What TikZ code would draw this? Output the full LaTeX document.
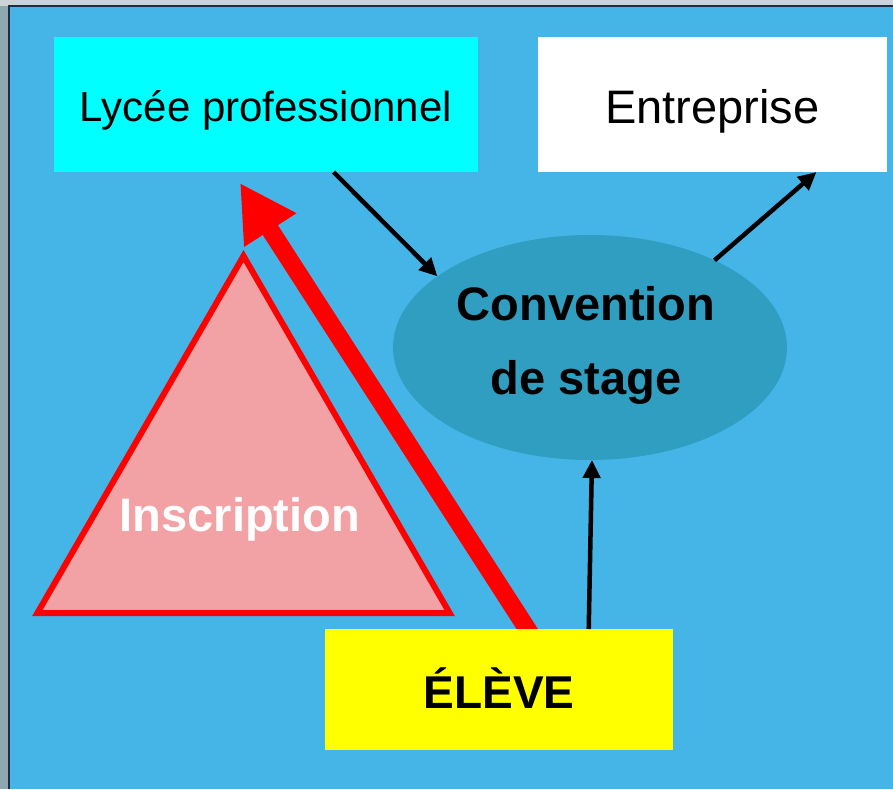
\documentclass[tikz,border=0pt]{standalone}
\usepackage{fontspec}
\setmainfont{Liberation Sans}
\usetikzlibrary{arrows.meta,shapes.geometric,calc}
\definecolor{bgblue}{HTML}{45B5E7}
\definecolor{outergray}{HTML}{8FA7B1}
\definecolor{topgray}{HTML}{CDD2D6}
\definecolor{framenavy}{HTML}{1E2C46}
\definecolor{convfill}{HTML}{2F9EC0}
\definecolor{pinkfill}{HTML}{F2A2A4}
\definecolor{lyceecyan}{HTML}{00FFFF}
\definecolor{elyellow}{HTML}{FFFF00}
\pgfdeclarelayer{bg}
\pgfsetlayers{bg,main}
\tikzset{
  plainbox/.style={rectangle, inner sep=0pt, outer sep=0pt, text=black, text depth=0pt},
  convshape/.style={ellipse, fill=convfill, minimum width=394pt, minimum height=225pt, inner sep=0pt, outer sep=0pt},
  convtext/.style={align=center, inner sep=0pt, outer sep=0pt, text=black,
    font=\fontsize{47}{74}\selectfont\bfseries},
  tribox/.style={regular polygon, regular polygon sides=3, minimum size=476pt, inner sep=0pt,
    fill=pinkfill, draw=red, line width=6pt},
  insctext/.style={inner sep=0pt, text=white, font=\fontsize{47}{56}\selectfont\bfseries},
  blackarrow/.style={draw=black, line width=4.5pt, -{Triangle[length=18pt,width=17pt]}},
  redarrow/.style={draw=red, line width=18pt, -{Triangle[length=56pt,width=58pt]}}
}
\begin{document}
\begin{tikzpicture}[x=1pt,y=-1pt]
\useasboundingbox (0,0) rectangle (893,789);
\begin{pgfonlayer}{bg}
  \fill[outergray] (0,0) rectangle (893,789);
  \fill[topgray] (0,0) rectangle (893,6);
  \fill[bgblue] (9,6) rectangle (893,789);
  \draw[framenavy, line width=2pt] (9,789) -- (9,6) -- (893,6);
\end{pgfonlayer}

\node[plainbox, fill=lyceecyan, minimum width=424pt, minimum height=135pt,
  text height=34.4pt, font=\fontsize{42}{50}\selectfont] (lycee) at (266,104.5) {Lycée professionnel};
\node[plainbox, fill=white, minimum width=349pt, minimum height=135pt,
  text height=37.6pt, font=\fontsize{47}{56}\selectfont] (entreprise) at (712.5,104.5) {Entreprise};
\node[convshape] (convention) at (590,347.5) {};
\node[convtext, anchor=north] (convlabel) at (586,286) {Convention\\de stage};
\node[tribox] (triangle) at (243.5,494) {};
\node[insctext, anchor=base] (inscription) at (240,531) {Inscription};
\node[plainbox, fill=elyellow, minimum width=348pt, minimum height=121pt,
  text height=37pt, font=\fontsize{46}{56}\selectfont\bfseries] (eleve) at (499,689.5) {ÉLÈVE};

\coordinate (redtip) at (240,183);
\begin{pgfonlayer}{bg}
  \draw[redarrow] ($(eleve.65.2)!-14pt!(redtip)$) -- (redtip);
\end{pgfonlayer}

\draw[blackarrow] (lycee.-45) -- (convention.155.5);
\draw[blackarrow] (convention.35.5) -- (entreprise.-33.1);
\draw[blackarrow] (eleve.34.2) -- (convention.-89.5);
\end{tikzpicture}
\end{document}
